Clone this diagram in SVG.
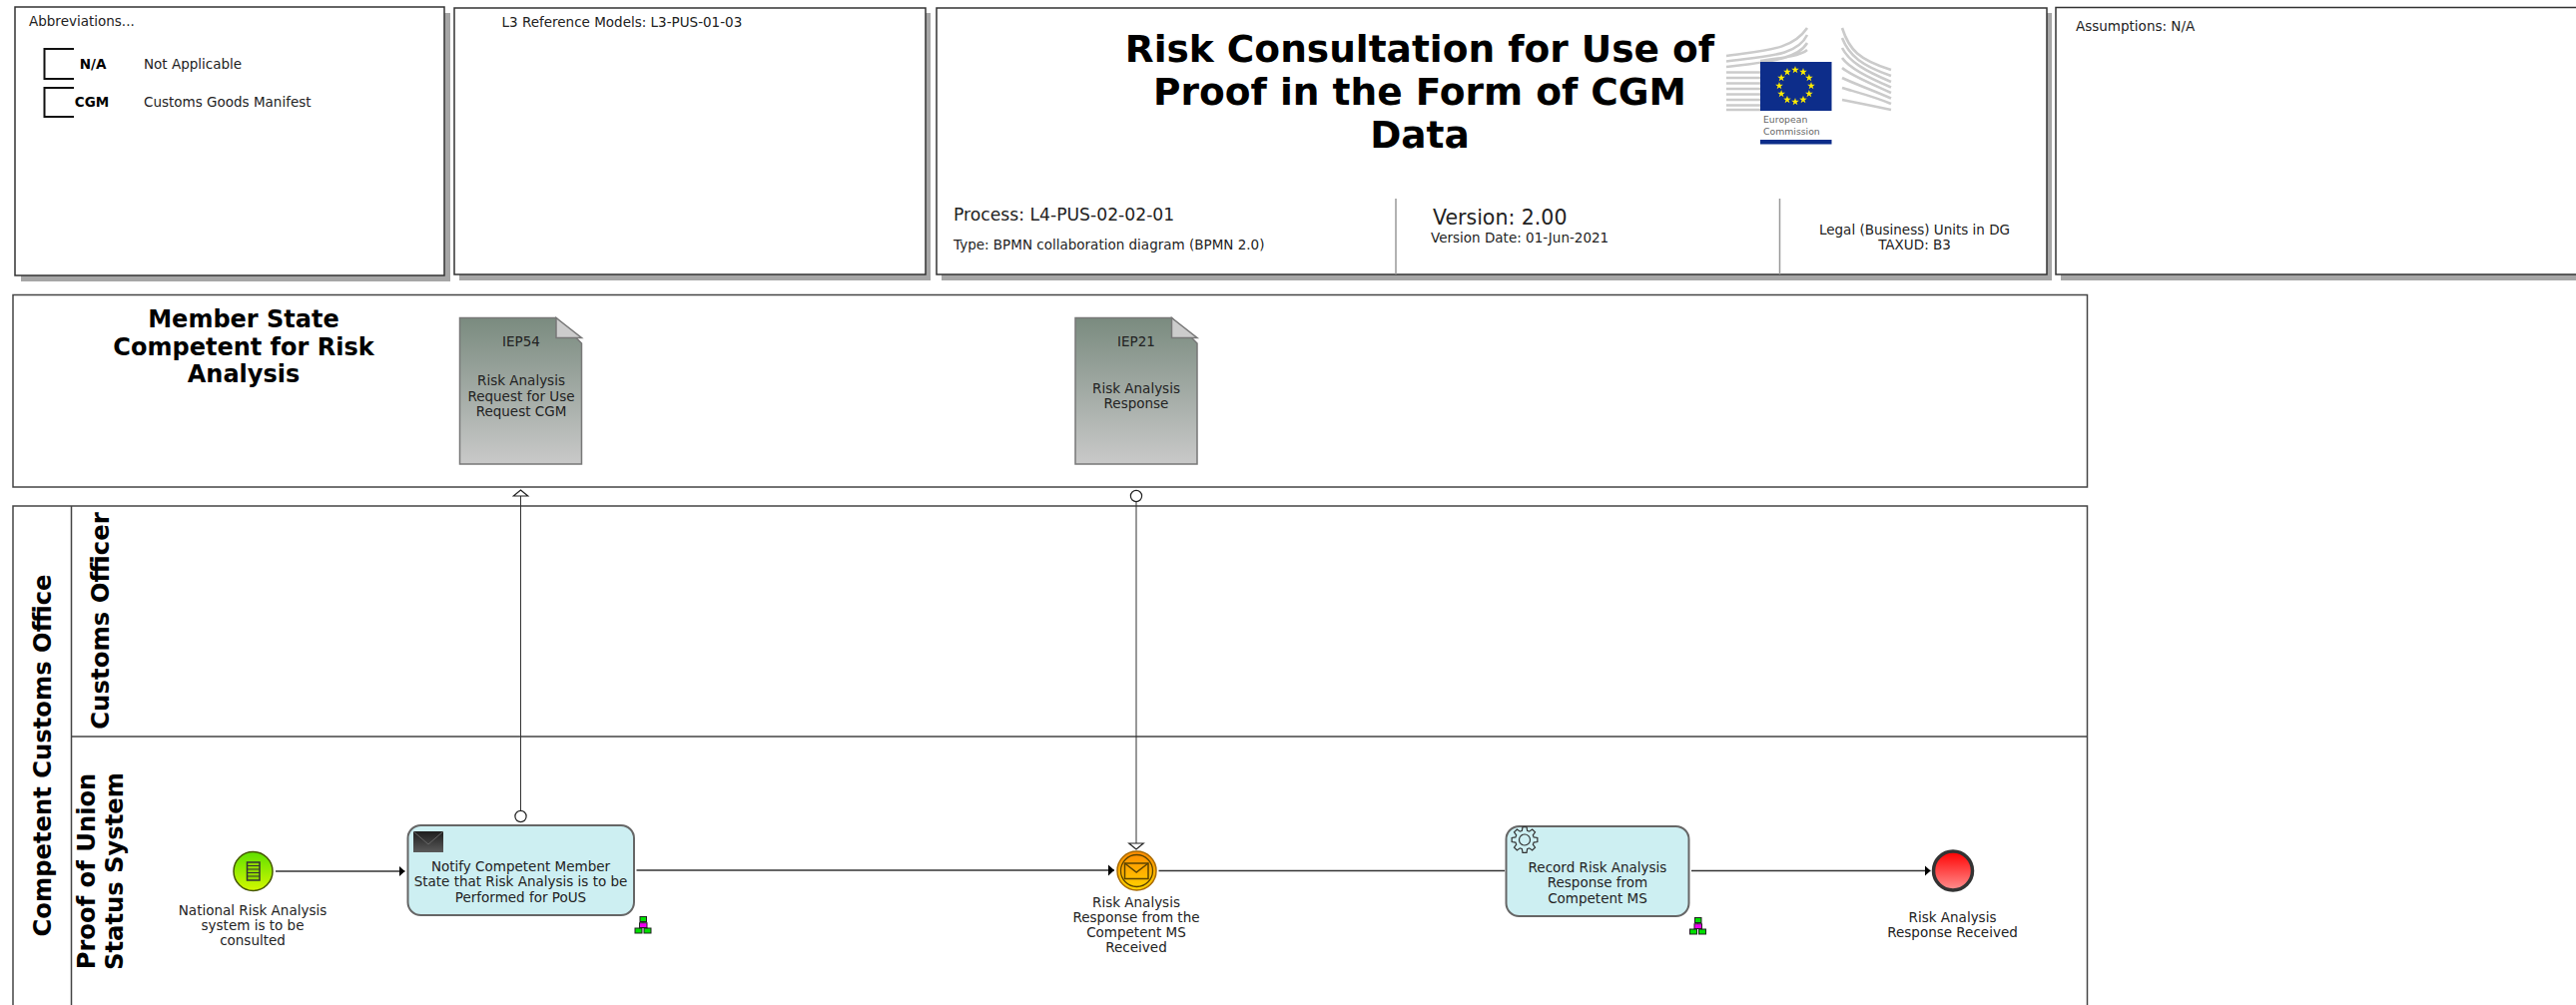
<svg xmlns="http://www.w3.org/2000/svg" xmlns:xlink="http://www.w3.org/1999/xlink" width="2580" height="1007" viewBox="0 0 2580 1007">
<style>
text{font-family:"DejaVu Sans","Liberation Sans",sans-serif;fill:#222}
.box{fill:#fff;stroke:#333;stroke-width:1.5}
.shadow{fill:#a6a6a6}
.s13{font-size:13.5px}
.mid{text-anchor:middle}
.b{font-weight:700;fill:#000}
.title{font-size:37.5px;font-weight:700;fill:#000;text-anchor:middle}
.ptitle{font-size:24px;font-weight:700;fill:#000;text-anchor:middle}
.lane{font-size:25px;font-weight:700;fill:#000;text-anchor:middle}
.pool{fill:none;stroke:#444;stroke-width:1.5}
.div{stroke:#999;stroke-width:1.5;fill:none}
.brk{fill:none;stroke:#111;stroke-width:2}
.task{fill:#cdeff2;stroke:#666;stroke-width:2}
.doc{fill:url(#docG);stroke:#777;stroke-width:1.5}
.fold{fill:#ccc;stroke:#777;stroke-width:1.5}
.seq{fill:none;stroke:#333;stroke-width:1.5;marker-end:url(#seqA)}
.msg{fill:none;stroke:#333;stroke-width:1;marker-start:url(#msgO);marker-end:url(#msgA)}
.bld{fill:none;stroke:#cbcbcb;stroke-width:2.6}
.mg{fill:#00e000;stroke:#222;stroke-width:1}
.mm{fill:#f000f0;stroke:#222;stroke-width:1}
</style>
<defs>
<linearGradient id="docG" x1="0" y1="0" x2="0" y2="1"><stop offset="0" stop-color="#7a8b7f"/><stop offset="1" stop-color="#c9c9c9"/></linearGradient>
<linearGradient id="startG" x1="0" y1="0" x2="0" y2="1"><stop offset="0" stop-color="#5fe000"/><stop offset="1" stop-color="#d4f800"/></linearGradient>
<linearGradient id="interG" x1="0" y1="0" x2="0" y2="1"><stop offset="0" stop-color="#ff8a00"/><stop offset="1" stop-color="#ffd400"/></linearGradient>
<linearGradient id="endG" x1="0" y1="0" x2="0" y2="1"><stop offset="0" stop-color="#ff0000"/><stop offset="1" stop-color="#ff9090"/></linearGradient>
<linearGradient id="envG" x1="0" y1="0" x2="0" y2="1"><stop offset="0" stop-color="#1e1e1e"/><stop offset="1" stop-color="#5a5a5a"/></linearGradient>
<marker id="seqA" markerUnits="userSpaceOnUse" markerWidth="8" markerHeight="13" refX="6" refY="6" orient="auto"><path d="M0,0.5 L6,6 L0,11.5 z" fill="#000"/></marker>
<marker id="msgA" markerUnits="userSpaceOnUse" markerWidth="9" markerHeight="18" refX="7" refY="8.5" orient="auto"><path d="M1,1.25 L7,8.5 L1,15.75 z" fill="#fff" stroke="#222" stroke-width="1.2"/></marker>
<marker id="msgO" markerUnits="userSpaceOnUse" markerWidth="14" markerHeight="14" refX="7" refY="7" orient="auto"><circle cx="7" cy="7" r="5.6" fill="#fff" stroke="#222" stroke-width="1.2"/></marker>
<polygon id="star" transform="scale(1.35)" points="0,-3 .7,-1 2.85,-.93 1.1,.35 1.76,2.43 0,1.2 -1.76,2.43 -1.1,.35 -2.85,-.93 -.7,-1" fill="#ffed00"/>
<g id="sub">
<rect class="mg" x="5" y="0" width="6.5" height="5"/>
<rect class="mm" x="4.5" y="6.2" width="7.5" height="4.8"/>
<rect class="mg" x="0" y="11.5" width="7" height="5"/>
<rect class="mg" x="9" y="11.5" width="7" height="5"/>
<path d="M8 5V6M6 11L4 11.5M10.5 11L12.5 11.5" stroke="#222" fill="none"/>
</g>
</defs>
<rect width="2580" height="1007" fill="#fff"/>

<g id="abbreviations">
<rect class="shadow" x="21" y="13" width="430" height="269"/>
<rect class="box" x="15" y="7" width="430" height="269"/>
<text class="s13" x="29" y="26">Abbreviations...</text>
<path class="brk" d="M74 49H44.500V79H74"/>
<text class="s13 mid b" x="93" y="69">N/A</text>
<text class="s13" x="144" y="69">Not Applicable</text>
<path class="brk" d="M74 88H44.500V117H74"/>
<text class="s13 mid b" x="92" y="107">CGM</text>
<text class="s13" x="144" y="107">Customs Goods Manifest</text>
</g>

<g id="reference-models">
<rect class="shadow" x="460" y="13" width="472" height="268"/>
<rect class="box" x="455" y="8" width="472" height="267"/>
<text class="s13" x="502.500" y="26.500">L3 Reference Models: L3-PUS-01-03</text>
</g>

<g id="title-block">
<rect class="shadow" x="943" y="13" width="1112" height="268"/>
<rect class="box" x="938" y="8" width="1112" height="267"/>
<text class="title" x="1422" y="62">Risk Consultation for Use of</text>
<text class="title" x="1422" y="105">Proof in the Form of CGM</text>
<text class="title" x="1422" y="148">Data</text>
<path class="div" d="M1398 199V275M1782.500 199V275"/>
<text x="955" y="220.500" font-size="17.2">Process: L4-PUS-02-02-01</text>
<text class="s13" x="955" y="250">Type: BPMN collaboration diagram (BPMN 2.0)</text>
<text x="1435" y="225" font-size="20.500">Version: 2.00</text>
<text class="s13" x="1433" y="242.500">Version Date: 01-Jun-2021</text>
<text class="s13 mid" x="1917.500" y="235">Legal (Business) Units in DG</text>
<text class="s13 mid" x="1917.500" y="250">TAXUD: B3</text>
<g id="logo">
<path class="bld" d="M1729 56C1770 50 1795 50 1810 28M1729 61.500C1770 56 1800 56 1810 35M1729 67C1770 62 1800 60 1810 43M1763 61C1785 58 1803 56 1810 50"/>
<path class="bld" d="M1729 72.500H1763M1729 78H1763M1729 83.500H1763M1729 89H1763M1729 94.500H1763M1729 100H1763M1729 105.500H1763M1729 110H1763"/>
<path class="bld" d="M1845 28C1852 50 1862 60 1894 70M1845 38C1852 56 1865 66 1894 76M1845 48C1852 62 1868 71 1894 82M1845 58C1852 68 1870 77 1894 87.500M1845 68C1853 75 1872 83 1894 93M1845 78C1855 83 1875 90 1894 98.500M1845 88C1858 92 1878 97 1894 104M1845 100C1860 103 1880 107 1894 110"/>
<rect x="1763" y="62" width="71.500" height="49" fill="#0d2d8a"/>
<use xlink:href="#star" href="#star" x="1798" y="70"/><use xlink:href="#star" href="#star" x="1806" y="72.100"/><use xlink:href="#star" href="#star" x="1811.900" y="78"/><use xlink:href="#star" href="#star" x="1814" y="86"/><use xlink:href="#star" href="#star" x="1811.900" y="94"/><use xlink:href="#star" href="#star" x="1806" y="99.900"/><use xlink:href="#star" href="#star" x="1798" y="102"/><use xlink:href="#star" href="#star" x="1790" y="99.900"/><use xlink:href="#star" href="#star" x="1784.100" y="94"/><use xlink:href="#star" href="#star" x="1782" y="86"/><use xlink:href="#star" href="#star" x="1784.100" y="78"/><use xlink:href="#star" href="#star" x="1790" y="72.100"/>
<text x="1766" y="123" font-size="9.300" style="fill:#666">European</text>
<text x="1766" y="135" font-size="9.300" style="fill:#666">Commission</text>
<rect x="1763" y="140" width="71.500" height="4.500" fill="#0d2d8a"/>
</g>
</g>

<g id="assumptions">
<rect class="shadow" x="2064" y="13" width="530" height="268"/>
<rect class="box" x="2059" y="7.500" width="530" height="267.500"/>
<text class="s13" x="2079" y="31">Assumptions: N/A</text>
</g>

<g id="pool-member-state">
<rect class="pool" x="13" y="295.500" width="2077.500" height="192.500"/>
<text class="ptitle" x="244" y="328">Member State</text>
<text class="ptitle" x="244" y="356">Competent for Risk</text>
<text class="ptitle" x="244" y="383">Analysis</text>
</g>

<g id="pool-customs-office">
<path class="pool" d="M13 1020V507H2090.500V1020M71.500 507V1020M71.500 738H2090.500"/>
<text class="lane" transform="translate(51 757) rotate(-90) scale(.97 1)">Competent Customs Office</text>
</g>
<g id="lane-customs-officer">
<text class="lane" transform="translate(108.500 622) rotate(-90) scale(.976 1)">Customs Officer</text>
</g>
<g id="lane-status-system">
<text class="lane" transform="translate(95 873) rotate(-90) scale(.97 1)">Proof of Union</text>
<text class="lane" transform="translate(122.500 873) rotate(-90) scale(.97 1)">Status System</text>
</g>

<g id="iep54">
<path class="doc" d="M460.500 318.500H557L582.500 344V465H460.500Z"/>
<path class="fold" d="M557 318.500V338.500H582.500Z"/>
<text class="s13 mid" x="522" y="347">IEP54</text>
<text class="s13 mid" x="522" y="386">Risk Analysis</text>
<text class="s13 mid" x="522" y="401.500">Request for Use</text>
<text class="s13 mid" x="522" y="417">Request CGM</text>
</g>
<g id="iep21">
<path class="doc" d="M1077 318.500H1173.500L1199 344V465H1077Z"/>
<path class="fold" d="M1173.500 318.500V338.500H1199Z"/>
<text class="s13 mid" x="1138" y="347">IEP21</text>
<text class="s13 mid" x="1138" y="394">Risk Analysis</text>
<text class="s13 mid" x="1138" y="409">Response</text>
</g>

<g id="connectors">
<path class="seq" d="M276 873H405.500"/>
<path class="seq" d="M637.500 872H1116"/>
<path class="seq" d="M1160.500 872.500H1507" style="marker-end:none"/>
<path class="seq" d="M1694 872.500H1933.500"/>
<path class="msg" d="M521.500 818V491"/>
<path class="msg" d="M1138 497V851"/>
</g>

<g id="start-event">
<circle cx="253.500" cy="873" r="19.500" fill="url(#startG)" stroke="#445500" stroke-width="1.500"/>
<rect x="247.500" y="864" width="12.500" height="18" fill="#8fd800" stroke="#333" stroke-width="1.500"/>
<path d="M247.500 867.500H260M247.500 871H260M247.500 874.500H260M247.500 878H260" stroke="#333" stroke-width="1.200"/>
<text class="s13 mid" x="253" y="917">National Risk Analysis</text>
<text class="s13 mid" x="253" y="932">system is to be</text>
<text class="s13 mid" x="253" y="947">consulted</text>
</g>

<g id="task-notify">
<rect class="task" x="408.500" y="827" width="226.500" height="90" rx="13" ry="13"/>
<rect x="414" y="833" width="30" height="21" fill="url(#envG)"/>
<path d="M414 833L429 846L444 833" fill="none" stroke="#666" stroke-width="1"/>
<text class="s13 mid" x="521.500" y="872.500">Notify Competent Member</text>
<text class="s13 mid" x="521.500" y="888">State that Risk Analysis is to be</text>
<text class="s13 mid" x="521.500" y="903.500">Performed for PoUS</text>
<use xlink:href="#sub" href="#sub" x="636" y="918.500"/>
</g>

<g id="event-response">
<circle cx="1138.500" cy="872.500" r="19.500" fill="url(#interG)" stroke="#a86a00" stroke-width="1.500"/>
<circle cx="1138.500" cy="872.500" r="16" fill="none" stroke="#5a4300" stroke-width="1.300"/>
<rect x="1126.500" y="865" width="23.500" height="15.500" fill="none" stroke="#5a4300" stroke-width="1.500"/>
<path d="M1126.500 865L1138.200 874L1150 865" fill="none" stroke="#5a4300" stroke-width="1.500"/>
<text class="s13 mid" x="1138" y="908.500">Risk Analysis</text>
<text class="s13 mid" x="1138" y="923.500">Response from the</text>
<text class="s13 mid" x="1138" y="939">Competent MS</text>
<text class="s13 mid" x="1138" y="954">Received</text>
</g>

<g id="task-record">
<rect class="task" x="1508.500" y="828" width="183" height="90" rx="13" ry="13"/>
<polygon transform="translate(1527 841.500)" points="9.13,-2.62 12.84,-2.03 12.84,2.03 9.13,2.62 8.31,4.61 10.52,7.64 7.64,10.52 4.61,8.31 2.62,9.13 2.03,12.84 -2.03,12.84 -2.62,9.13 -4.61,8.31 -7.64,10.52 -10.52,7.64 -8.31,4.61 -9.13,2.62 -12.84,2.03 -12.84,-2.03 -9.13,-2.62 -8.31,-4.61 -10.52,-7.64 -7.64,-10.52 -4.61,-8.31 -2.62,-9.13 -2.03,-12.84 2.03,-12.84 2.62,-9.13 4.61,-8.31 7.64,-10.52 10.52,-7.64 8.31,-4.61" fill="none" stroke="#333" stroke-width="1.200"/>
<circle cx="1527" cy="841.500" r="5.500" fill="none" stroke="#333" stroke-width="1.200"/>
<text class="s13 mid" x="1600" y="873.500">Record Risk Analysis</text>
<text class="s13 mid" x="1600" y="888.500">Response from</text>
<text class="s13 mid" x="1600" y="904.500">Competent MS</text>
<use xlink:href="#sub" href="#sub" x="1692.500" y="919.500"/>
</g>

<g id="end-event">
<circle cx="1956" cy="872.500" r="19.500" fill="url(#endG)" stroke="#333" stroke-width="3.500"/>
<text class="s13 mid" x="1955.500" y="923.500">Risk Analysis</text>
<text class="s13 mid" x="1955.500" y="938.500">Response Received</text>
</g>
</svg>
